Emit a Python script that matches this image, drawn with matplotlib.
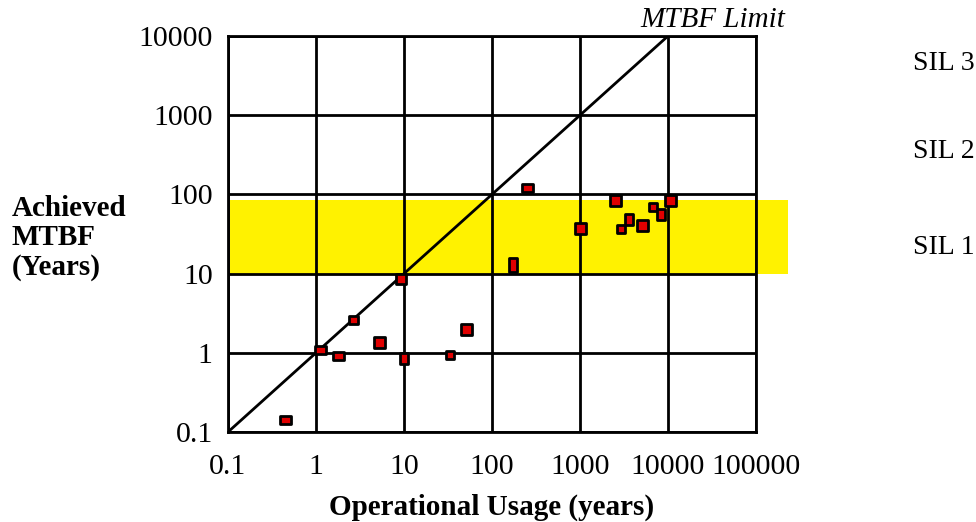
import matplotlib
matplotlib.use("Agg")
import matplotlib.pyplot as plt
from matplotlib.path import Path
from matplotlib.patches import Rectangle

# ---- data ----
usage_years = [0.45, 1.1, 1.8, 2.6, 5.2, 10, 33, 50, 9.2,
               250, 175, 1000, 2500, 2900, 3600, 5000, 6800, 8300, 10500]
achieved_mtbf = [0.14, 1.1, 0.9, 2.6, 1.35, 0.85, 0.95, 2.0, 8.5,
                 120, 13, 38, 85, 37, 49, 41, 69, 57, 85]
tick_values = [0.1, 1, 10, 100, 1000, 10000, 100000]
tick_labels = ["0.1", "1", "10", "100", "1000", "10000", "100000"]
y_tick_values = [0.1, 1, 10, 100, 1000, 10000]
y_tick_labels = ["0.1", "1", "10", "100", "1000", "10000"]
limit_x = [0.1, 10000]
limit_y = [0.1, 10000]
sil1_band = (10, 85)
sil_labels = ["SIL 3", "SIL 2", "SIL 1"]

# ---- style (marker box sizes in px) ----
marker_w = [11, 11, 11, 9, 11, 8, 8, 11, 10, 11, 8, 11, 11, 8, 8, 11, 8, 8, 11]
marker_h = [8, 8, 8, 8, 11, 11, 8, 11, 10, 8, 14, 11, 11, 8, 11, 11, 8, 11, 11]

plt.rcParams['font.family'] = ['Liberation Serif', 'DejaVu Serif']

W, H = 976, 522
fig = plt.figure(figsize=(W / 100, H / 100), dpi=100)
ax = fig.add_axes([228 / W, 1 - 432 / H, (756 - 228) / W, (432 - 36) / H])
ax.set_xscale('log')
ax.set_yscale('log')
ax.set_xlim(0.1, 100000)
ax.set_ylim(0.1, 10000)

# yellow SIL1 band extends past the right edge
band = Rectangle((0.1, sil1_band[0]), 2.3e5 - 0.1, sil1_band[1] - sil1_band[0],
                 facecolor='#FFF200', edgecolor='none', clip_on=False, zorder=0)
ax.add_patch(band)

LW = 2.0
for v in tick_values:
    ax.axvline(v, color='black', lw=LW, zorder=1)
for v in y_tick_values:
    ax.axhline(v, color='black', lw=LW, zorder=1)

ax.plot(limit_x, limit_y, color='black', lw=LW, zorder=2)

for x, y, w, h in zip(usage_years, achieved_mtbf, marker_w, marker_h):
    m = max(w, h)
    verts = [(-w / m, -h / m), (w / m, -h / m), (w / m, h / m), (-w / m, h / m), (-w / m, -h / m)]
    path = Path(verts, [Path.MOVETO, Path.LINETO, Path.LINETO, Path.LINETO, Path.CLOSEPOLY])
    ax.plot([x], [y], linestyle='none', marker=path, markersize=m * 0.72,
            markerfacecolor='#E00000', markeredgecolor='black', markeredgewidth=2.0,
            zorder=3, clip_on=False)

for s in ax.spines.values():
    s.set_linewidth(LW)
    s.set_color('black')

ax.set_xticks(tick_values)
ax.set_xticklabels(tick_labels)
ax.set_yticks(y_tick_values)
ax.set_yticklabels(y_tick_labels)
ax.minorticks_off()
ax.tick_params(axis='both', length=0, labelsize=21.5)
ax.tick_params(axis='x', pad=16)
ax.tick_params(axis='y', pad=11)

fig.text(492 / W, 1 - 507 / H, "Operational Usage (years)", ha='center', va='center',
         fontsize=21, fontweight='bold')
fig.text(12 / W, 1 - 238 / H, "Achieved\nMTBF\n(Years)", ha='left', va='center',
         fontsize=21, fontweight='bold', linespacing=1.1, multialignment='left')
fig.text(785 / W, 1 - 20 / H, "MTBF Limit", ha='right', va='center',
         fontsize=21, fontstyle='italic')
for lbl, yy in zip(sil_labels, [64, 152, 247]):
    fig.text(913 / W, 1 - yy / H, lbl, ha='left', va='center', fontsize=20)

fig.savefig("out.png", dpi=100)
